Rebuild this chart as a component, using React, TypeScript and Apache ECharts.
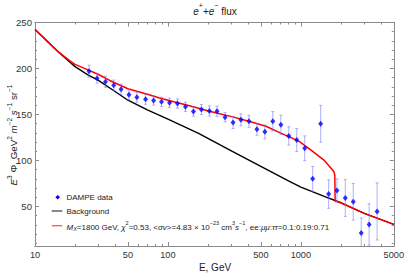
import React, { useEffect, useRef } from "react";
import * as echarts from "echarts";

// ---------- data ----------
const energies = [25.5, 29.3, 33.9, 39.1, 44.4, 50.9, 58.4, 67.9, 78.0, 89.5, 102.8, 118, 135.5, 155.6, 178.6, 205, 234, 269, 309, 354, 407, 467, 536, 615, 707, 811, 931, 1069, 1227, 1409, 1618, 1868, 2158, 2477, 2844, 3262, 3745];
const flux = [197.1, 189.5, 185.6, 181.9, 177.5, 171.4, 168.8, 166.6, 165.2, 163.8, 162.7, 161.9, 158.3, 153.2, 155.4, 153.8, 153.5, 147, 141.2, 144.2, 142.6, 133.9, 131.1, 142.6, 138.7, 126.7, 122.2, 113.2, 80, 139.9, 63.5, 67.4, 59.2, 55.1, 21, 30.4, 44.6];
const fluxErr = [6.5, 5.5, 6, 5.5, 5.5, 5.5, 5.5, 5.5, 5, 5, 5, 5, 5, 5, 5.5, 5.5, 5.5, 5, 6.5, 6.5, 6.5, 6.5, 7.5, 10.5, 10.5, 10, 12.5, 13.5, 13.5, 20, 15.5, 12.5, 20, 20, 16.5, 22.5, 31];

const bgE = [10, 15, 20, 25, 30, 40, 50, 70, 100, 170, 300, 500, 800, 1000, 1500, 2000, 3000, 5000];
const bgFlux = [242.5, 218, 202, 193, 187, 175, 165.5, 155, 145, 129.5, 110.5, 93.5, 78, 71, 61, 54, 42.5, 30.5];

const sigE = [10, 15, 18, 20, 25, 30, 36.5, 50, 70, 86.5, 100, 150, 205, 307, 400, 546, 700, 971, 1200, 1500, 1700, 1770, 1800, 1810, 2000, 3000, 5000];
const sigFlux = [242.5, 218, 209, 204.5, 198.5, 193.5, 187, 178, 172, 168, 165.5, 159, 153.5, 147.4, 143, 137.2, 130, 120.8, 111, 100, 91, 88, 84, 56, 54, 42.5, 30.5];

const xTickLabels = [10, 50, 100, 500, 1000, 5000];
const xMinorTicks = [20, 30, 40, 60, 70, 80, 90, 200, 300, 400, 600, 700, 800, 900, 2000, 3000, 4000];
const yTickLabels = [50, 100, 150, 200, 250];
const yMinorTicks = [10, 20, 30, 40, 60, 70, 80, 90, 110, 120, 130, 140, 160, 170, 180, 190, 210, 220, 230, 240];

const FONT = "'Liberation Sans', Arial, sans-serif";
const FRAME = "#8a8a8a";
const TXT = "#333";

const lx = (e: number) => Math.log10(e);
const X_MIN = lx(10);
const X_MAX = lx(5000);
const Y_MIN = 7;
const Y_MAX = 250;

export default function App() {
  const ref = useRef<HTMLDivElement>(null);
  useEffect(() => {
    if (!ref.current) return;
    const chart = echarts.init(ref.current, undefined, { renderer: "svg" });

    const xBase = (pos: string, values: number[], len: number, labels: boolean) => ({
      type: "value",
      position: pos,
      min: X_MIN,
      max: X_MAX,
      splitLine: { show: false },
      axisLine: { show: true, onZero: false, lineStyle: { color: FRAME, width: 1 } },
      axisTick: { show: true, inside: true, length: len, customValues: values.map(lx), lineStyle: { color: FRAME, width: 1 } },
      axisLabel: labels
        ? {
            show: true,
            customValues: values.map(lx),
            formatter: (v: number) => String(Math.round(Math.pow(10, v))),
            fontSize: 9.2,
            fontFamily: FONT,
            color: TXT,
            margin: 4,
          }
        : { show: false },
    });
    const yBase = (pos: string, values: number[], len: number, labels: boolean) => ({
      type: "value",
      position: pos,
      min: Y_MIN,
      max: Y_MAX,
      splitLine: { show: false },
      axisLine: { show: true, onZero: false, lineStyle: { color: FRAME, width: 1 } },
      axisTick: { show: true, inside: true, length: len, customValues: values, lineStyle: { color: FRAME, width: 1 } },
      axisLabel: labels
        ? { show: true, customValues: values, fontSize: 9.6, fontFamily: FONT, color: TXT, margin: 3 }
        : { show: false },
    });

    const errColor = "rgba(110,110,255,0.55)";

    const richBase = {
      n: { fontSize: 8, fontFamily: FONT, fill: "#222", lineHeight: 12, verticalAlign: "bottom" },
      i: { fontSize: 8, fontFamily: FONT, fill: "#222", fontStyle: "italic", lineHeight: 12, verticalAlign: "bottom" },
      sup: { fontSize: 5.5, fontFamily: FONT, fill: "#222", lineHeight: 5, verticalAlign: "top" },
      sub: { fontSize: 5.5, fontFamily: FONT, fill: "#222", fontStyle: "italic", lineHeight: 7, verticalAlign: "bottom" },
    };
    const richBig = {
      n: { fontSize: 10, fontFamily: FONT, fill: "#222", lineHeight: 14, verticalAlign: "bottom" },
      i: { fontSize: 10, fontFamily: FONT, fill: "#222", fontStyle: "italic", lineHeight: 14, verticalAlign: "bottom" },
      sup: { fontSize: 7, fontFamily: FONT, fill: "#222", lineHeight: 6, verticalAlign: "top" },
    };

    const option: any = {
      animation: false,
      backgroundColor: "#fff",
      grid: { left: 35, right: 11.5, top: 22.5, bottom: 31, containLabel: false },
      xAxis: [
        xBase("bottom", xTickLabels, 4, true),
        xBase("bottom", xMinorTicks, 2, false),
        xBase("top", xTickLabels, 4, false),
        xBase("top", xMinorTicks, 2, false),
      ],
      yAxis: [
        yBase("left", yTickLabels, 4, true),
        yBase("left", yMinorTicks, 2, false),
        yBase("right", yTickLabels, 4, false),
        yBase("right", yMinorTicks, 2, false),
      ],
      series: [
        {
          name: "Background",
          type: "line",
          xAxisIndex: 0,
          yAxisIndex: 0,
          data: bgE.map((e, i) => [lx(e), bgFlux[i]]),
          showSymbol: false,
          symbol: "none",
          lineStyle: { color: "#000", width: 1.4 },
          z: 2,
        },
        {
          name: "Signal",
          type: "line",
          xAxisIndex: 0,
          yAxisIndex: 0,
          data: sigE.map((e, i) => [lx(e), sigFlux[i]]),
          showSymbol: false,
          symbol: "none",
          lineStyle: { color: "#ff0000", width: 1.5 },
          z: 3,
        },
        {
          name: "errors",
          type: "custom",
          xAxisIndex: 0,
          yAxisIndex: 0,
          clip: true,
          data: energies.map((e, i) => [lx(e), flux[i] - fluxErr[i], flux[i] + fluxErr[i]]),
          encode: { x: 0, y: [1, 2] },
          renderItem: (params: any, api: any) => {
            const x = api.value(0);
            const lo = api.coord([x, api.value(1)]);
            const hi = api.coord([x, api.value(2)]);
            const cap = 1.5;
            const st = { stroke: errColor, lineWidth: 1 };
            return {
              type: "group",
              children: [
                { type: "line", shape: { x1: lo[0], y1: lo[1], x2: hi[0], y2: hi[1] }, style: st },
                { type: "line", shape: { x1: lo[0] - cap, y1: lo[1], x2: lo[0] + cap, y2: lo[1] }, style: st },
                { type: "line", shape: { x1: hi[0] - cap, y1: hi[1], x2: hi[0] + cap, y2: hi[1] }, style: st },
              ],
            };
          },
          z: 4,
        },
        {
          name: "DAMPE data",
          type: "scatter",
          xAxisIndex: 0,
          yAxisIndex: 0,
          data: energies.map((e, i) => [lx(e), flux[i]]),
          symbol: "diamond",
          symbolSize: [5, 6],
          itemStyle: { color: "#0000ff" },
          z: 5,
        },
      ],
      graphic: [
        {
          type: "text",
          x: 215,
          y: 9,
          style: {
            text: "{i|e}{sup|+}{n|+}{i|e}{sup|−}{n| flux}",
            rich: richBig,
            align: "center",
            verticalAlign: "middle",
          },
        },
        {
          type: "text",
          x: 215,
          y: 267,
          style: {
            text: "E, GeV",
            fontSize: 10,
            fontFamily: FONT,
            fill: "#222",
            align: "center",
            verticalAlign: "middle",
          },
        },
        {
          type: "text",
          x: 12,
          y: 135,
          rotation: Math.PI / 2,
          style: {
            text: "{i|E}{sup|3}{n| Φ, GeV}{sup|2}{n| }{i|m}{sup|−2}{n| }{i|s}{sup|−1}{n| sr}{sup|−1}",
            rich: {
              n: { fontSize: 9.8, fontFamily: FONT, fill: "#222", lineHeight: 13, verticalAlign: "bottom" },
              i: { fontSize: 9.8, fontFamily: FONT, fill: "#222", fontStyle: "italic", lineHeight: 13, verticalAlign: "bottom" },
              sup: { fontSize: 6.5, fontFamily: FONT, fill: "#222", lineHeight: 6, verticalAlign: "top" },
            },
            align: "center",
            verticalAlign: "middle",
          },
        },
        // legend
        {
          type: "polygon",
          shape: { points: [[57.7, 195], [60, 197.3], [57.7, 199.6], [55.4, 197.3]] },
          style: { fill: "#0000ff" },
        },
        {
          type: "text",
          x: 66.5,
          y: 197.3,
          style: { text: "DAMPE data", fontSize: 8, fontFamily: FONT, fill: "#222", verticalAlign: "middle" },
        },
        {
          type: "line",
          shape: { x1: 51.7, y1: 211, x2: 62.3, y2: 211 },
          style: { stroke: "#555", lineWidth: 1.4 },
        },
        {
          type: "text",
          x: 66.5,
          y: 211,
          style: { text: "Background", fontSize: 8, fontFamily: FONT, fill: "#222", verticalAlign: "middle" },
        },
        {
          type: "line",
          shape: { x1: 51.7, y1: 225.7, x2: 62.3, y2: 225.7 },
          style: { stroke: "#ff6060", lineWidth: 1.4 },
        },
        {
          type: "text",
          x: 66.5,
          y: 225.7,
          style: {
            text:
              "{i|M}{sub|X}{n|=1800 GeV, }{i|χ}{sup|2}{n|=0.53, <}{i|σv}{n|>=4.83 × 10}{sup|−23}{n| cm}{sup|3}{i|s}{sup|−1}{n|, ee:}{i|μμ}{n|:}{i|ττ}{n|=0.1:0.19:0.71}",
            rich: richBase,
            verticalAlign: "middle",
          },
        },
      ],
    };
    chart.setOption(option);
    return () => chart.dispose();
  }, []);
  return <div ref={ref} style={{ position: "absolute", left: 0, top: 0, width: 407, height: 277 }} />;
}
